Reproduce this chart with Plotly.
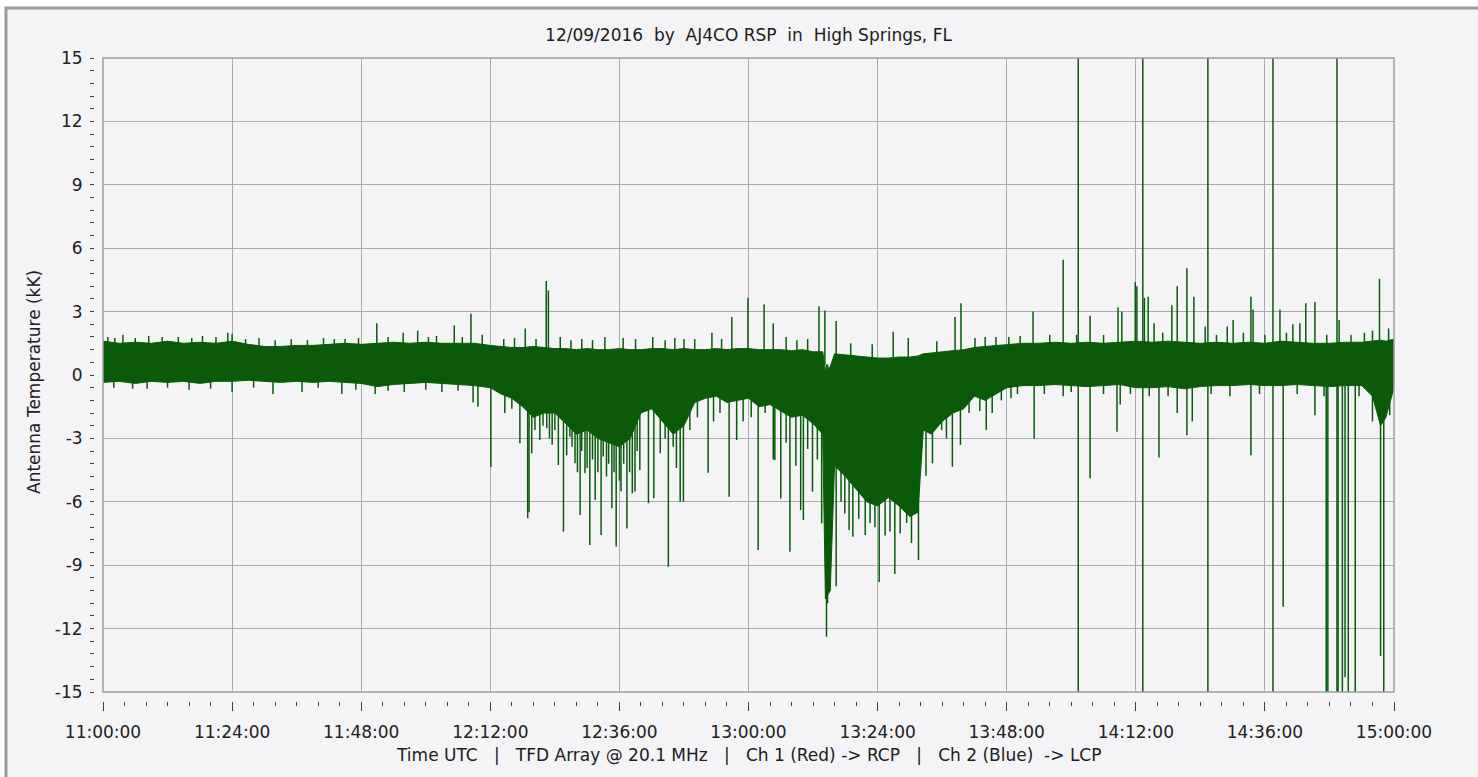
import pandas as pd
import plotly.graph_objects as go

# ---------------- data (minutes after 11:00:00 UTC, values in kK) ----------------
title_text = "12/09/2016  by  AJ4CO RSP  in  High Springs, FL"
x_caption = "Time UTC   |   TFD Array @ 20.1 MHz   |   Ch 1 (Red) -> RCP   |   Ch 2 (Blue)  -> LCP"
y_caption = "Antenna Temperature (kK)"

y_tickvals = [15, 12, 9, 6, 3, 0, -3, -6, -9, -12, -15]
y_ticktext = ["15", "12", "9", "6", "3", "0", "-3", "-6", "-9", "-12", "-15"]

# dense noise band: time, upper edge, lower edge
band_t = [0, 3, 6, 9, 12, 15, 18, 21, 24, 27, 30, 33, 36, 39, 42, 45, 48, 51, 54, 57,
          60, 63, 66, 69, 72, 74, 76, 78, 80, 82, 84, 86, 88, 90, 92, 94, 96, 98, 100,
          102, 104, 106, 108, 110, 112, 114, 116, 118, 120, 122, 124, 126, 128, 130,
          132, 133.8, 134.3, 135.2, 136, 138, 140, 142, 144, 146, 148, 150, 151.5,
          152.5, 154, 156, 158, 160, 162, 164, 166, 168, 171, 174, 177, 180, 183, 186,
          189, 192, 195, 198, 201, 204, 207, 210, 213, 216, 219, 222, 225, 228, 231,
          234, 236, 237.5, 238.5, 240]
band_hi = [1.6, 1.5, 1.55, 1.5, 1.6, 1.5, 1.55, 1.5, 1.6, 1.45, 1.35, 1.35, 1.4, 1.4,
           1.45, 1.5, 1.45, 1.5, 1.55, 1.5, 1.55, 1.5, 1.5, 1.5, 1.4, 1.35, 1.3, 1.3,
           1.35, 1.3, 1.25, 1.25, 1.2, 1.25, 1.2, 1.2, 1.25, 1.2, 1.2, 1.25, 1.25, 1.2,
           1.25, 1.2, 1.2, 1.25, 1.2, 1.25, 1.25, 1.2, 1.2, 1.2, 1.15, 1.2, 1.1, 1.1,
           0.2, 0.4, 1.0, 0.95, 0.9, 0.85, 0.8, 0.8, 0.85, 0.85, 0.9, 1.0, 1.05, 1.1,
           1.15, 1.2, 1.3, 1.35, 1.4, 1.45, 1.5, 1.5, 1.55, 1.5, 1.55, 1.5, 1.55, 1.6,
           1.55, 1.6, 1.55, 1.5, 1.55, 1.5, 1.55, 1.5, 1.6, 1.55, 1.5, 1.5, 1.55, 1.55,
           1.6, 1.65, 1.6, 1.7]
band_lo = [-0.35, -0.3, -0.4, -0.3, -0.35, -0.3, -0.4, -0.3, -0.3, -0.25, -0.3, -0.35,
           -0.3, -0.35, -0.3, -0.35, -0.4, -0.55, -0.45, -0.4, -0.35, -0.4, -0.45, -0.5,
           -0.6, -0.9, -1.1, -1.5, -2.0, -1.8, -1.8, -2.3, -2.8, -2.6, -3.0, -3.2, -3.4,
           -3.0, -1.8, -1.6, -2.2, -2.8, -2.4, -1.3, -1.1, -1.0, -1.3, -1.2, -1.1, -1.5,
           -1.4, -1.7, -2.0, -1.9, -2.3, -2.8, -10.6, -10.2, -4.3, -4.8, -5.4, -6.0,
           -6.2, -5.8, -6.2, -6.7, -6.5, -2.6, -2.8, -2.2, -1.8, -1.6, -1.0, -1.2, -0.9,
           -0.6, -0.5, -0.5, -0.45, -0.5, -0.55, -0.5, -0.45, -0.6, -0.6, -0.55, -0.65,
           -0.55, -0.5, -0.5, -0.45, -0.5, -0.5, -0.45, -0.5, -0.55, -0.5, -0.5, -1.0,
           -2.4, -2.0, -0.6]

# individual spikes (time, peak value)
spike_up_t = [0.9, 2.2, 3.7, 6, 8.5, 11, 14, 16.5, 18.5, 21, 23.2, 24.0, 26.5, 29, 32,
              35, 38, 41, 43, 45, 47.5, 50.9, 53, 55.8, 58.5, 60.5, 62, 65.3, 66.8,
              68.4, 70.5, 74.5, 76.5, 78.5, 80.5, 82.4, 82.8, 85, 87, 89, 91, 93.3, 96.7,
              99, 102.2, 104.5, 106.3, 108, 110, 113.2, 115, 116.9, 119.9, 122.9, 124.6,
              127, 129, 131, 133.1, 134.2, 136.3, 139, 143, 146.9, 149.7, 155, 158.4,
              159.5, 162.1, 164, 166, 168.4, 170.5, 172.9, 176, 178.5, 181, 183.5, 186,
              188.7, 189.4, 191.9, 192.2, 193.6, 194.3, 195.4, 197, 198.7, 199.7, 201.5,
              202.8, 204.9, 207, 209.0, 210.1, 212, 213.4, 213.8, 216, 218.8, 220, 221.2,
              222.5, 223.6, 225.3, 227.5, 229.8, 232, 234.5, 236, 237.3, 239.0]
spike_up_v = [1.8, 1.75, 1.9, 1.75, 1.85, 1.8, 1.8, 1.75, 1.85, 1.8, 2.0, 1.95, 1.7,
              1.75, 1.65, 1.7, 1.65, 1.75, 1.7, 1.7, 1.75, 2.45, 1.8, 2.0, 2.1, 1.8,
              1.85, 2.35, 1.8, 2.9, 1.9, 1.7, 1.75, 2.2, 1.7, 4.45, 4.0, 1.8, 1.65, 1.7,
              1.65, 1.8, 1.75, 1.7, 1.8, 1.65, 1.75, 1.7, 1.7, 2.0, 1.7, 2.75, 3.65, 3.35,
              2.45, 1.8, 1.65, 1.7, 3.25, 3.05, 2.55, 1.5, 1.45, 2.05, 1.75, 1.6, 2.75,
              3.4, 1.75, 1.8, 1.8, 1.8, 1.85, 3.0, 1.9, 5.45, 1.9, 2.8, 1.9, 3.2, 3.0,
              4.4, 4.2, 3.65, 3.7, 2.45, 2.0, 3.3, 4.2, 5.05, 3.7, 2.3, 1.9, 2.3, 2.6,
              2.0, 3.7, 3.1, 1.9, 3.1, 2.0, 2.4, 2.45, 3.4, 3.45, 1.9, 2.6, 1.9, 2.0,
              2.1, 4.55, 2.2]

spike_dn_t = [2, 5.5, 8.2, 12, 16, 20, 24, 28, 31.6, 37, 40, 44.4, 47, 50.6, 53, 56, 60,
              63, 66, 68.8, 69.7, 72.1, 74.7, 76, 77.5, 78.95, 79.2, 79.7, 80.3, 81.2,
              81.8, 82.5, 83.0, 83.5, 84.0, 84.65, 85.6, 86.2, 86.8, 87.2, 87.75, 88.2,
              88.7, 89.0, 89.6, 90.0, 90.5, 91.0, 91.5, 92.0, 92.6, 93.0, 93.6, 94.0,
              94.6, 95.0, 95.4, 96.0, 96.3, 96.8, 97.4, 97.9, 98.4, 98.9, 99.3, 99.8,
              101.4, 102.4, 103.6, 104.5, 105.1, 106.0, 106.6, 107.3, 107.9, 109.1,
              110.5, 112.5, 113.5, 114.7, 116.4, 117.8, 119, 120.5, 121.8, 123.1, 124.6,
              124.9, 126.0, 127.0, 127.7, 128.8, 129.7, 130.2, 131.0, 131.9, 132.8,
              133.6, 134.5, 134.7, 136.3, 137.2, 137.9, 138.7, 139.4, 140.5, 141.7,
              142.6, 143.5, 144.3, 145.4, 146.3, 147.2, 148.2, 149.4, 150.3, 151.6,
              153.0, 154.2, 155.9, 156.8, 157.9, 159.4, 161, 163, 164.2, 165.3, 167,
              168.8, 170, 173.1, 175, 178.5, 180, 183.5, 186, 188.5, 189.1, 191, 194.5,
              196.3, 198, 199.7, 201.5, 202.5, 206, 209.5, 213.4, 215, 219.4, 222, 225.3,
              227, 230.9, 233.5, 236.0, 237.5, 239.2]
spike_dn_v = [-0.6, -0.65, -0.65, -0.6, -0.7, -0.65, -0.8, -0.6, -0.9, -0.8, -0.6, -0.9,
              -0.7, -0.9, -0.75, -0.8, -0.7, -0.8, -0.75, -1.3, -1.5, -4.35, -1.8, -1.6,
              -3.23, -6.78, -6.5, -3.71, -2.6, -3.08, -2.4, -2.52, -3.0, -3.3, -2.6,
              -4.26, -7.41, -3.8, -2.92, -3.4, -4.18, -4.6, -6.63, -3.6, -4.65, -4.4,
              -8.05, -4.0, -5.92, -4.6, -7.57, -3.86, -4.8, -4.2, -6.31, -4.6, -8.12,
              -5.0, -5.5, -4.2, -7.26, -4.6, -5.6, -5.52, -3.6, -4.5, -6.07, -5.83, -3.7,
              -3.0, -9.07, -3.4, -4.4, -5.99, -5.99, -2.6, -2.0, -4.62, -2.2, -1.8,
              -5.76, -3.08, -2.2, -2.0, -8.28, -1.8, -4.0, -4.02, -5.84, -3.2, -8.36,
              -4.3, -6.39, -6.86, -3.5, -5.52, -4.0, -7.02, -12.38, -10.8, -10.0, -6.0,
              -6.55, -7.33, -7.65, -6.8, -7.57, -7.0, -7.2, -9.8, -7.6, -7.4, -9.42, -7.5,
              -7.0, -7.95, -8.76, -4.77, -4.18, -2.6, -3.0, -4.34, -3.31, -1.8, -1.7,
              -2.6, -1.8, -1.2, -1.1, -0.9, -3.0, -0.9, -1.0, -0.8, -4.89, -0.9, -2.68,
              -1.4, -0.9, -1.0, -3.9, -1.0, -1.8, -2.85, -2.2, -0.9, -1.0, -3.8, -0.9,
              -10.97, -0.9, -1.9, -1.0, -14.3, -1.0, -2.2, -13.3, -1.9]

# off-scale spikes (both directions) and off-scale downward spikes
spike_full_t = [181.3, 193.3, 205.4, 217.5, 229.4]
spike_offdn_t = [227.4, 227.7, 229.6, 230.4, 231.5, 232.8, 238.1]
y_top, y_bottom = 15, -15
band_mid = 0.5

# ---------------- figure ----------------
base = pd.Timestamp("2016-12-09 11:00:00")


def T(mins):
    return [base + pd.Timedelta(minutes=float(m)) for m in mins]


green = "#0a5a0a"
fig = go.Figure()

fig.add_trace(go.Scatter(
    x=T(band_t) + T(band_t[::-1]),
    y=band_hi + band_lo[::-1],
    fill="toself", fillcolor=green, mode="lines",
    line=dict(color=green, width=1), hoverinfo="skip", showlegend=False))

sx, sy = [], []
for t, v in zip(spike_up_t + spike_dn_t, spike_up_v + spike_dn_v):
    tt = T([t])[0]
    sx += [tt, tt, None]
    sy += [band_mid, v, None]
for t in spike_full_t:
    tt = T([t])[0]
    sx += [tt, tt, None]
    sy += [y_top, y_bottom, None]
for t in spike_offdn_t:
    tt = T([t])[0]
    sx += [tt, tt, None]
    sy += [band_mid, y_bottom, None]

fig.add_trace(go.Scatter(x=sx, y=sy, mode="lines", line=dict(color=green, width=1.5),
                         hoverinfo="skip", showlegend=False, connectgaps=False))

W, H = 1478, 777
ml, mr, mt, mb = 94, 84, 58, 76
pw, ph = W - ml - mr, H - mt - mb
frame_l, frame_b = 103, 692
xd0 = (frame_l - ml) / pw
yd0 = (H - mb - frame_b) / ph

font = "Verdana, DejaVu Sans, sans-serif"
grid = "#ababab"
fs = 17

fig.update_layout(
    width=W, height=H, autosize=False,
    margin=dict(l=ml, r=mr, t=mt, b=mb, pad=0),
    paper_bgcolor="white", plot_bgcolor="#f4f4f6",
    font=dict(family=font, size=fs, color="#202020"),
    title=dict(text=title_text, x=(748.5 - ml) / pw, xref="paper", xanchor="center",
               y=1 - 35 / H, yref="container", yanchor="middle",
               font=dict(family=font, size=fs, color="#202020")),
    xaxis=dict(
        domain=[xd0, 1], anchor="free", position=0,
        type="date", range=[base, base + pd.Timedelta(minutes=240)],
        tick0=base, dtick=24 * 60 * 1000, tickformat="%H:%M:%S",
        showgrid=True, gridcolor=grid, gridwidth=1, zeroline=False, showline=False,
        ticks="outside", ticklen=9, tickwidth=1, tickcolor="#404040",
        ticklabelstandoff=7,
        minor=dict(dtick=4 * 60 * 1000, ticks="outside", ticklen=4, tickcolor="#404040",
                   showgrid=False),
        tickfont=dict(family=font, size=fs, color="#202020"),
    ),
    yaxis=dict(
        domain=[yd0, 1], anchor="free", position=0,
        range=[y_bottom, y_top], tickmode="array", tickvals=y_tickvals, ticktext=y_ticktext,
        showgrid=True, gridcolor=grid, gridwidth=1, zeroline=False, showline=False,
        ticks="outside", ticklen=2, tickwidth=1, tickcolor="#404040",
        ticklabelstandoff=6,
        minor=dict(tick0=-15, dtick=0.6, ticks="outside", ticklen=4, tickcolor="#404040",
                   showgrid=False),
        tickfont=dict(family=font, size=fs, color="#202020"),
    ),
    shapes=[
        dict(type="rect", xref="paper", yref="paper",
             x0=(6 - ml) / pw, x1=(W + 20 - ml) / pw,
             y0=(H - mb - (H + 20)) / ph, y1=(H - mb - 8) / ph,
             fillcolor="#f4f4f6", line=dict(color="#9a9a9a", width=3), layer="below"),
        dict(type="rect", xref="x domain", yref="y domain", x0=0, x1=1, y0=0, y1=1,
             line=dict(color="#9e9e9e", width=1.5), fillcolor="rgba(0,0,0,0)", layer="above"),
    ],
    annotations=[
        dict(text=y_caption, xref="paper", yref="paper", x=(34 - ml) / pw,
             y=(H - mb - 382) / ph, textangle=-90, showarrow=False,
             xanchor="center", yanchor="middle",
             font=dict(family=font, size=fs, color="#202020")),
        dict(text=x_caption, xref="paper", yref="paper", x=(748.5 - ml) / pw,
             y=(H - mb - 755) / ph, showarrow=False, xanchor="center", yanchor="middle",
             font=dict(family=font, size=fs, color="#202020")),
    ],
)

fig.write_html("out.html", config={"displayModeBar": False},
               post_script="document.body.style.margin='0px';")
